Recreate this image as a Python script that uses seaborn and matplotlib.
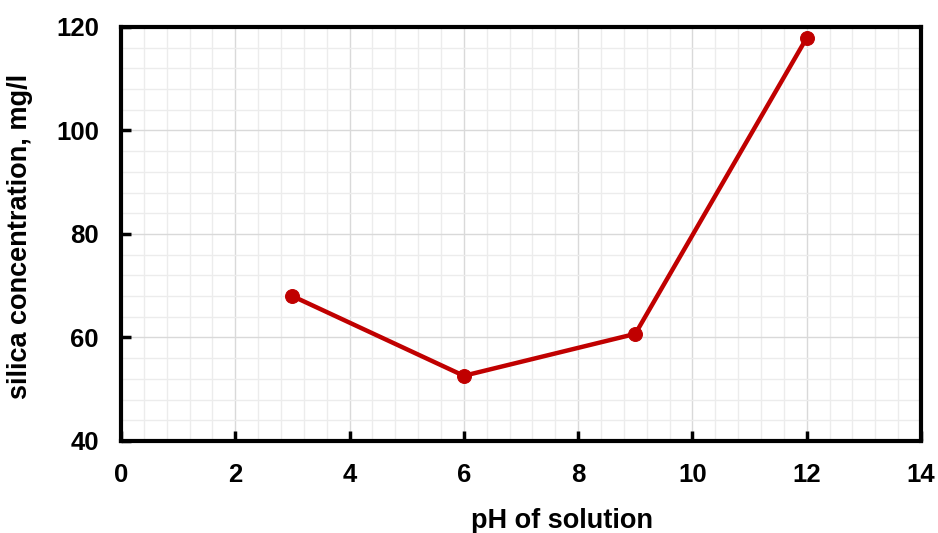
import matplotlib
matplotlib.use("Agg")
import matplotlib.pyplot as plt
import seaborn as sns
import pandas as pd
from matplotlib.ticker import MultipleLocator

ph = [3, 6, 9, 12]
silica = [68.0, 52.6, 60.7, 117.9]
x_ticks = [0, 2, 4, 6, 8, 10, 12, 14]
y_ticks = [40, 60, 80, 100, 120]

sns.set_style("white")
plt.rcParams['font.family'] = ['Liberation Sans', 'DejaVu Sans']
plt.rcParams['font.weight'] = 'bold'
plt.rcParams['text.color'] = 'black'
plt.rcParams['axes.labelcolor'] = 'black'
plt.rcParams['xtick.color'] = 'black'
plt.rcParams['ytick.color'] = 'black'

df = pd.DataFrame({"pH": ph, "silica": silica})

fig = plt.figure(figsize=(9.38, 5.33), dpi=100)
ax = fig.add_axes([121/938, 1 - 441/533, 800/938, 414/533])

ax.set_xlim(0, 14)
ax.set_ylim(40, 120)
ax.xaxis.set_major_locator(MultipleLocator(2))
ax.xaxis.set_minor_locator(MultipleLocator(0.4))
ax.yaxis.set_major_locator(MultipleLocator(20))
ax.yaxis.set_minor_locator(MultipleLocator(4))
ax.grid(which='minor', color='#ececec', linewidth=1.0)
ax.grid(which='major', color='#d9d9d9', linewidth=1.0)
ax.set_axisbelow(True)

sns.lineplot(data=df, x="pH", y="silica", ax=ax, color="#C00000", linewidth=3.2,
             marker="o", markersize=10, markeredgecolor="#C00000", zorder=3)

ax.set_xticks(x_ticks)
ax.set_yticks(y_ticks)
ax.tick_params(axis='x', which='major', direction='in', length=7, width=2.5,
               labelsize=18.5, pad=16, bottom=True, top=False)
ax.tick_params(axis='y', which='major', direction='in', length=7, width=2.5,
               labelsize=18.5, pad=16, left=True, right=False)
ax.tick_params(axis='both', which='minor', length=0)
for lab in ax.get_xticklabels() + ax.get_yticklabels():
    lab.set_fontweight('bold')

for s in ax.spines.values():
    s.set_linewidth(3)
    s.set_color('black')

ax.set_xlabel("pH of solution", fontsize=19.5, fontweight='bold')
ax.set_ylabel("silica concentration, mg/l", fontsize=19.5, fontweight='bold')
ax.xaxis.set_label_coords(0.551, -0.162)
ax.yaxis.set_label_coords(-0.110, 0.495)

fig.savefig("out.png", dpi=100)
